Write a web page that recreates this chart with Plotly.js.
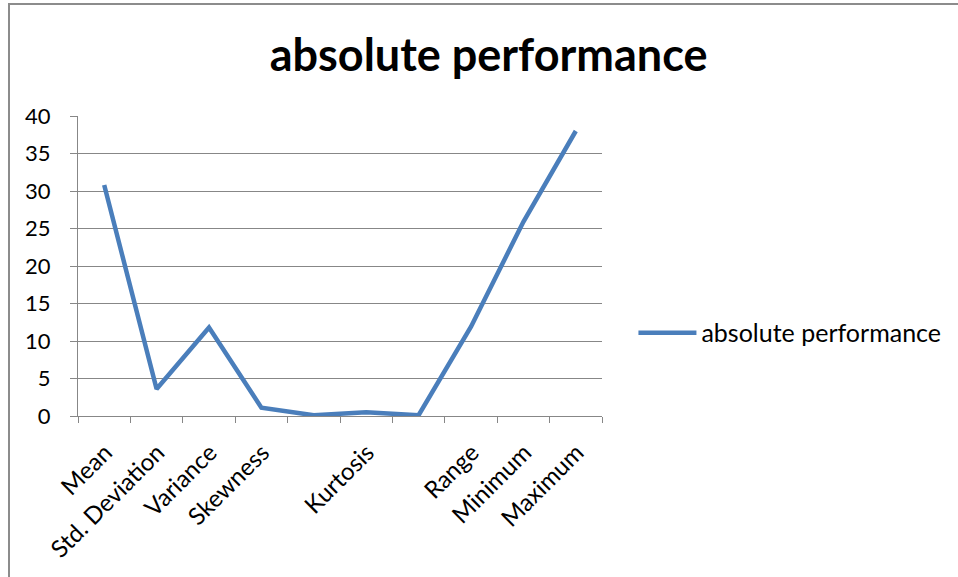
<!DOCTYPE html>
<html>
<head>
<meta charset="utf-8">
<script src="https://cdn.plot.ly/plotly-3.0.1.min.js"></script>
<style>
  html, body { margin: 0; padding: 0; background: #fff; }
  #wrap { position: relative; width: 958px; height: 577px; overflow: hidden; }
  #chart { position: absolute; left: 0; top: 0; width: 958px; height: 577px; }
  /* chart-area frame: left and top edges */
  #frame { position: absolute; left: 8px; top: 3px; width: 960px; height: 590px;
           border-left: 2px solid #8c8c8c; border-top: 2px solid #8c8c8c; pointer-events: none; }
</style>
</head>
<body>
<div id="wrap">
  <div id="chart"></div>
  <div id="frame"></div>
</div>
<script>
// Descriptive statistics of absolute performance
const categories = ["Mean", "Std. Deviation", "Variance", "Skewness", " ", "Kurtosis", "  ", "Range", "Minimum", "Maximum"];
const values = [30.8, 3.6, 11.8, 1.1, 0.1, 0.5, 0.1, 11.9, 25.9, 38];
const seriesName = "absolute performance";
const yTicks = [0, 5, 10, 15, 20, 25, 30, 35, 40];

const font = "Lato, 'Open Sans', sans-serif";
const gray = "#878787";

const trace = {
  type: "scatter",
  mode: "lines",
  x: categories,
  y: values,
  name: seriesName,
  line: { color: "#4a7ebb", width: 4.5 },
  showlegend: true,
  hoverinfo: "x+y"
};

const layout = {
  width: 958,
  height: 577,
  paper_bgcolor: "#ffffff",
  plot_bgcolor: "#ffffff",
  margin: { l: 78, r: 354, t: 116, b: 161 },
  font: { family: font, color: "#000000" },
  title: {
    text: "<b>absolute performance</b>",
    font: { family: font, size: 45, color: "#000000" },
    x: 0.51, xanchor: "center", xref: "container",
    y: 0.905, yanchor: "middle", yref: "container"
  },
  xaxis: {
    type: "category",
    categoryorder: "array",
    categoryarray: categories,
    range: [-0.5, categories.length - 0.5],
    tickson: "boundaries",
    ticks: "outside",
    ticklen: 6,
    tickcolor: gray,
    showline: true,
    linecolor: gray,
    linewidth: 1,
    showgrid: false,
    zeroline: false,
    tickangle: -45,
    ticklabelstandoff: 12,
    ticklabelshift: 1,
    tickfont: { family: font, size: 24, color: "#000000" },
    fixedrange: true
  },
  yaxis: {
    range: [0, 40],
    tickvals: yTicks,
    ticktext: yTicks.map(String),
    ticks: "outside",
    ticklen: 7,
    tickcolor: gray,
    showline: true,
    linecolor: gray,
    linewidth: 1,
    showgrid: true,
    gridcolor: gray,
    gridwidth: 1,
    zeroline: false,
    ticklabelstandoff: 15,
    tickfont: { family: font, size: 22, color: "#000000" },
    fixedrange: true
  },
  showlegend: true,
  legend: {
    x: 1.06, xanchor: "left",
    y: 0.277, yanchor: "middle",
    font: { family: font, size: 25, color: "#000000" },
    bgcolor: "rgba(0,0,0,0)",
    itemwidth: 58
  }
};

Plotly.newPlot("chart", [trace], layout, { displayModeBar: false, staticPlot: true });
</script>
</body>
</html>
